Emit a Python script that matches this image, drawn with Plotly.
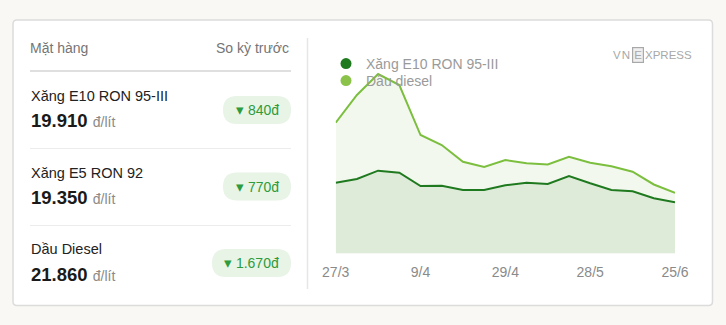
import plotly.graph_objects as go

W, H = 726, 325

# ---- data ----
dates = ["27/3", "31/3", "3/4", "7/4", "9/4", "14/4", "17/4", "24/4", "29/4",
         "7/5", "14/5", "21/5", "28/5", "4/6", "11/6", "18/6", "25/6"]
e10 = [23890, 24640, 26330, 25920, 23220, 23280, 22410, 22410, 23360,
       23890, 23630, 25250, 23770, 22410, 22150, 20750, 19910]
diesel = [36070, 41700, 45960, 43720, 33570, 31540, 28150, 27080, 28500,
          27830, 27590, 29170, 27950, 27220, 26130, 23530, 21860]
tick_labels = ["27/3", "9/4", "29/4", "28/5", "25/6"]

items = ["Xăng E10 RON 95-III", "Xăng E5 RON 92", "Dầu Diesel"]
prices = ["19.910", "19.350", "21.860"]
changes = ["840đ", "770đ", "1.670đ"]

FONT = "Arial, Liberation Sans, sans-serif"
DARK = "#1f7a1f"
LIGHT = "#7cbf3f"


def px(x):
    return x / W


def py(y):
    return 1 - y / H


def rrect(x0, y0, x1, y1, r):
    pts = [
        ("M", (x0 + r, y0)), ("L", (x1 - r, y0)), ("Q", (x1, y0), (x1, y0 + r)),
        ("L", (x1, y1 - r)), ("Q", (x1, y1), (x1 - r, y1)),
        ("L", (x0 + r, y1)), ("Q", (x0, y1), (x0, y1 - r)),
        ("L", (x0, y0 + r)), ("Q", (x0, y0), (x0 + r, y0)),
    ]
    s = ""
    for p in pts:
        cmd = p[0]
        coords = " ".join(f"{px(a):.5f},{py(b):.5f}" for a, b in p[1:])
        s += f"{cmd} {coords} "
    return s + "Z"


def ann(text, x, y, xanchor, size, color, **kw):
    d = dict(text=text, x=px(x), y=py(y), xref="paper", yref="paper",
             xanchor=xanchor, yanchor="middle", showarrow=False,
             font=dict(size=size, color=color, family=FONT))
    d.update(kw)
    return d


fig = go.Figure()

# Diesel area (light)
fig.add_trace(go.Scatter(x=dates, y=diesel, mode="lines", fill="tozeroy",
                         fillcolor="#f3f8ee", line=dict(color=LIGHT, width=2),
                         showlegend=False, hoverinfo="skip"))
# E10 area (darker fill)
fig.add_trace(go.Scatter(x=dates, y=e10, mode="lines", fill="tozeroy",
                         fillcolor="#dfebd9", line=dict(color=DARK, width=2),
                         showlegend=False, hoverinfo="skip"))
# legend entries (each in its own legend for exact row spacing)
fig.add_trace(go.Scatter(x=[None], y=[None], mode="markers", name="Xăng E10 RON 95-III",
                         marker=dict(color=DARK, size=11), legend="legend"))
fig.add_trace(go.Scatter(x=[None], y=[None], mode="markers", name="Dầu diesel",
                         marker=dict(color="#8bc34a", size=11), legend="legend2"))

shapes = [
    # page background
    dict(type="rect", xref="paper", yref="paper", x0=0, x1=1, y0=0, y1=1,
         fillcolor="#f9f8f4", line=dict(width=0), layer="below"),
    # card
    dict(type="path", xref="paper", yref="paper", path=rrect(13, 20, 712.5, 305.5, 4),
         fillcolor="#ffffff", line=dict(color="#dcdcdc", width=1.5), layer="below"),
    # vertical divider
    dict(type="line", xref="paper", yref="paper", x0=px(307.5), x1=px(307.5),
         y0=py(38), y1=py(289), line=dict(color="#e6e6e6", width=1.5), layer="below"),
    # header divider
    dict(type="line", xref="paper", yref="paper", x0=px(30), x1=px(291),
         y0=py(71), y1=py(71), line=dict(color="#d4d4d4", width=1.5), layer="below"),
]
for yy in [148.5, 225.5]:
    shapes.append(dict(type="line", xref="paper", yref="paper", x0=px(30), x1=px(291),
                       y0=py(yy), y1=py(yy), line=dict(color="#ececec", width=1), layer="below"))

annotations = [
    ann("Mặt hàng", 28, 48, "left", 14, "#757575"),
    ann("So kỳ trước", 291, 48, "right", 14, "#757575"),
]

row_name_y = [96, 172.5, 249]
row_price_y = [120, 197, 274]
pill_y = [110, 186.5, 263]
pill_left = [223, 223, 212]
for i in range(3):
    annotations.append(ann(items[i], 28.5, row_name_y[i], "left", 14.5, "#222222"))
    annotations.append(ann(
        f"<b>{prices[i]}</b> <span style='font-size:14px;color:#8a8a8a'>đ/lít</span>",
        28.5, row_price_y[i], "left", 18.5, "#1a1a1a"))
    shapes.append(dict(type="path", xref="paper", yref="paper",
                       path=rrect(pill_left[i], pill_y[i] - 14, 291, pill_y[i] + 14, 14),
                       fillcolor="#e7f4e6", line=dict(width=0), layer="below"))
    annotations.append(ann(f"<span style='font-size:14.5px'>▾</span> {changes[i]}",
                           (pill_left[i] + 291) / 2, pill_y[i], "center", 14, "#2e9b3c"))

# VnExpress logo
hs = "\u200a"
annotations += [
    ann(hs.join("VN"), 632, 55, "right", 11.5, "#a8a8a8"),
    ann("E", 637.5, 55, "center", 11.5, "#a8a8a8",
        bordercolor="#a8a8a8", borderwidth=1.2, borderpad=1, bgcolor="#efefef"),
    ann("XPRESS", 642.5, 55, "left", 11.5, "#a8a8a8"),
]

leg_common = dict(xanchor="left", yanchor="top", bgcolor="rgba(0,0,0,0)",
                  font=dict(size=14, color="#9a9a9a", family=FONT),
                  tracegroupgap=0, itemwidth=30)

fig.update_layout(
    width=W, height=H, margin=dict(l=0, r=0, t=0, b=0, autoexpand=False),
    paper_bgcolor="#ffffff", plot_bgcolor="rgba(0,0,0,0)",
    shapes=shapes, annotations=annotations,
    showlegend=True,
    legend=dict(x=px(326), y=py(48), **leg_common),
    legend2=dict(x=px(326), y=py(65), **leg_common),
    xaxis=dict(domain=[px(335.7), px(675)], range=[0, 16], type="category",
               tickmode="array", tickvals=tick_labels, ticktext=tick_labels,
               showgrid=False, zeroline=False, showline=False, ticks="",
               ticklabelstandoff=9,
               tickfont=dict(size=14, color="#8a8a8a", family=FONT), fixedrange=True),
    yaxis=dict(domain=[py(253.3), py(53.3)], range=[9560, 50160], showgrid=False,
               zeroline=False, showline=False, showticklabels=False, fixedrange=True),
)

fig.write_html("out.html")
